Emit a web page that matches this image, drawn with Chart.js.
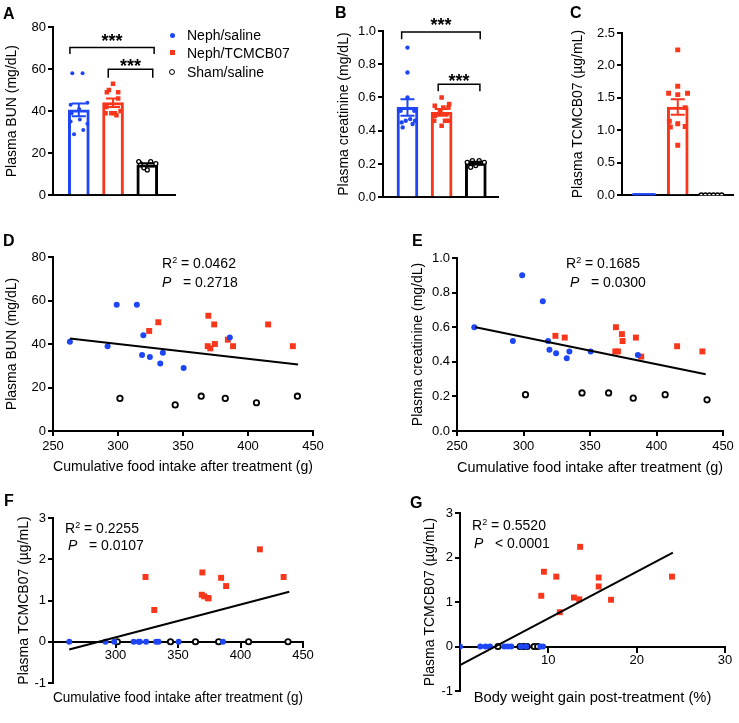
<!DOCTYPE html>
<html>
<head>
<meta charset="utf-8">
<script src="https://cdn.jsdelivr.net/npm/chart.js@4.4.1/dist/chart.umd.min.js"></script>
<style>
  body { margin: 0; background: #fff; }
  #fig { position: relative; width: 739px; height: 723px; overflow: hidden;
         font-family: "Liberation Sans", Arial, sans-serif; color: #000; }
  canvas { position: absolute; }
  .lbl { position: absolute; font-weight: bold; font-size: 16px; line-height: 16px; }
  .txt { position: absolute; font-size: 14px; line-height: 14px; white-space: nowrap; }
  .txt sup { font-size: 9px; vertical-align: 5px; line-height: 0; }
  .mk { position: absolute; box-sizing: border-box; }
</style>
</head>
<body>
<div id="fig">
  <canvas id="cA"></canvas>
  <canvas id="cB"></canvas>
  <canvas id="cC"></canvas>
  <canvas id="cD"></canvas>
  <canvas id="cE"></canvas>
  <canvas id="cF"></canvas>
  <canvas id="cG"></canvas>

  <!-- panel letters -->
  <div class="lbl" style="left:3px;top:6px">A</div>
  <div class="lbl" style="left:335px;top:5px">B</div>
  <div class="lbl" style="left:570px;top:5px">C</div>
  <div class="lbl" style="left:3px;top:233px">D</div>
  <div class="lbl" style="left:412px;top:233px">E</div>
  <div class="lbl" style="left:4px;top:493px">F</div>
  <div class="lbl" style="left:410px;top:495px">G</div>

  <!-- legend -->
  <div class="mk" style="left:169.5px;top:32.5px;width:5px;height:5px;border-radius:50%;background:#1e46f5"></div>
  <div class="txt" style="left:187px;top:28px">Neph/saline</div>
  <div class="mk" style="left:169.5px;top:50px;width:5px;height:5px;background:#f8361c"></div>
  <div class="txt" style="left:187px;top:46px">Neph/TCMCB07</div>
  <div class="mk" style="left:169px;top:69px;width:6px;height:6px;border-radius:50%;border:1.5px solid #000"></div>
  <div class="txt" style="left:187px;top:65px">Sham/saline</div>

  <!-- regression stats -->
  <div class="txt" style="left:162px;top:256px">R<sup>2</sup> = 0.0462</div>
  <div class="txt" style="left:162px;top:275px"><i>P</i>&nbsp;&nbsp; = 0.2718</div>
  <div class="txt" style="left:566px;top:256px">R<sup>2</sup> = 0.1685</div>
  <div class="txt" style="left:570px;top:275px"><i>P</i>&nbsp;&nbsp; = 0.0300</div>
  <div class="txt" style="left:65px;top:521px">R<sup>2</sup> = 0.2255</div>
  <div class="txt" style="left:68px;top:538px"><i>P</i>&nbsp;&nbsp; = 0.0107</div>
  <div class="txt" style="left:472px;top:518px">R<sup>2</sup> = 0.5520</div>
  <div class="txt" style="left:474px;top:536px"><i>P</i>&nbsp;&nbsp; &lt; 0.0001</div>
</div>

<script>
// colours
var BLUE = '#1e46f5';
var RED = '#f8361c';
var BLACK = '#000000';

// Neph/saline animals
var blueFood  = [263, 292, 299, 314.5, 319.5, 318.5, 324.5, 332.5, 334.5, 350.5, 386];
var blueBUN   = [41, 39, 58, 58, 44, 35, 34, 31, 36, 29, 43];
var blueCreat = [0.60, 0.52, 0.90, 0.75, 0.47, 0.52, 0.45, 0.42, 0.46, 0.46, 0.44];
var blueTC    = [0, 0, 0, 0, 0, 0, 0, 0, 0, 0, 0];
var blueBW    = [0, 2.3, 2.9, 3.4, 5.0, 5.4, 5.8, 6.9, 7.5, 9.1, 9.4];

// Neph/TCMCB07 animals
var redFood  = [324, 331, 369.5, 374, 369, 371, 374.5, 384.5, 388.5, 415.5, 434.5];
var redBUN   = [46, 50, 53, 49, 39, 38, 40, 42, 39, 49, 39];
var redCreat = [0.55, 0.54, 0.60, 0.56, 0.46, 0.46, 0.52, 0.54, 0.43, 0.49, 0.46];
var redTC    = [1.57, 0.77, 1.68, 1.06, 1.14, 1.10, 1.05, 1.55, 1.35, 2.24, 1.57];
var redBW    = [10.9, 11.3, 9.5, 13.5, 9.2, 12.9, 17.1, 15.7, 15.7, 13.6, 24.0];

// Sham/saline animals
var blackFood  = [301.5, 344, 364, 382.5, 406.5, 438];
var blackBUN   = [15, 12, 16, 15, 13, 16];
var blackCreat = [0.21, 0.22, 0.22, 0.19, 0.21, 0.18];
var blackTC    = [0, 0, 0, 0, 0, 0];
var blackBW    = [4.3, 6.8, 7.2, 7.6, 8.4, 8.8];

// bar heights (mean) and SEM, in group order
var bunMean = [40.6, 44.0, 14.5];
var bunSem = [3.0, 2.0, 0.7];
var creatMean = [0.54, 0.51, 0.205];
var creatSem = [0.05, 0.02, 0.008];
var tcMean = [0, 1.36, 0];
var tcSem = [0, 0.12, 0];

// horizontal scatter of the dots inside each bar (group units)
var jitBunBlue = [0.01, -0.21, -0.19, 0.11, 0.25, -0.24, 0.25, 0.13, 0.03, -0.14, -0.24];
var jitBunRed = [0.15, -0.12, 0, 0.15, -0.22, 0.1, 0.22, -0.2, 0.05, -0.18, -0.05];
var jitBunBlack = [-0.2, 0, 0.1, 0.25, -0.1, -0.25];
var jitCrBlue = [0, -0.2, 0, 0, 0.08, 0.2, -0.17, -0.14, 0.22, -0.05, 0.15];
var jitCrRed = [-0.2, 0.2, 0, 0.22, -0.22, 0.2, -0.05, 0.05, 0, -0.2, 0.1];
var jitCrBlack = [-0.25, -0.1, 0.1, 0, 0.25, -0.15];
var jitTcBlue = [-0.3, -0.24, -0.18, -0.12, -0.06, 0, 0.06, 0.12, 0.18, 0.24, 0.3];
var jitTcRed = [-0.27, 0, 0, 0.22, -0.25, 0, -0.22, 0, 0.22, 0, 0.29];
var jitTcBlack = [-0.3, -0.18, -0.06, 0.06, 0.18, 0.3];

// significance brackets (group units / value units)
var bracketsA = [
  {from: -0.26, to: 2.2, y: 70.3, drop: 3.1, star: 75.2},
  {from: 0.86, to: 2.16, y: 59.9, drop: 4.0, star: 63.3}
];
var bracketsB = [
  {from: -0.17, to: 2.13, y: 0.994, drop: 0.043, star: 1.062},
  {from: 0.9, to: 2.12, y: 0.68, drop: 0.043, star: 0.721}
];

// linear fit end points
var fitD = [{x: 263, y: 42.5}, {x: 438.5, y: 30.6}];
var fitE = [{x: 264, y: 0.60}, {x: 437, y: 0.328}];
var fitF = [{x: 263, y: -0.19}, {x: 439, y: 1.21}];
var fitG = [{x: 0, y: -0.42}, {x: 24.1, y: 2.11}];

Chart.defaults.font.family = '"Liberation Sans", Arial, sans-serif';
Chart.defaults.font.size = 13;
Chart.defaults.color = '#000';

function pairs(xs, ys) {
  return xs.map(function(x, i) { return {x: x, y: ys[i]}; });
}

function jittered(group, jit, ys) {
  return ys.map(function(y, i) { return {x: group + jit[i], y: y}; });
}

function tickGrid() {
  return {display: true, drawOnChartArea: false, drawTicks: true, tickLength: 5,
          lineWidth: 2, color: '#000'};
}

function axisBorder() {
  return {display: true, width: 2, color: '#000'};
}

function yScale(box, area, min, max, step, title, digits) {
  return {
    position: 'left', min: min, max: max,
    ticks: {stepSize: step, padding: 2, callback: function(v) { return digits ? v.toFixed(digits) : v; }},
    grid: tickGrid(), border: axisBorder(),
    title: {display: true, text: title, font: {size: 14}, padding: {top: 4, bottom: 0}},
    afterFit: function(s) { s.width = area.l - box.x; }
  };
}

function barX(box, area, min, max) {
  return {
    type: 'linear', position: 'bottom', min: min, max: max, offset: false,
    ticks: {display: false}, grid: {display: false}, border: axisBorder(),
    afterFit: function(s) { s.height = box.y + box.h - area.b; }
  };
}

function valX(box, area, min, max, step, title, hide) {
  return {
    type: 'linear', position: 'bottom', min: min, max: max,
    ticks: {stepSize: step, padding: 3, callback: function(v) { return v === hide ? '' : v; }},
    grid: tickGrid(), border: axisBorder(),
    title: {display: !!title, text: title, font: {size: 14.7}, padding: {top: 0, bottom: 0}},
    afterFit: function(s) { s.height = box.y + box.h - area.b; }
  };
}

function titleOnlyX(box, area, title) {
  return {
    type: 'linear', position: 'bottom', min: 0, max: 1,
    ticks: {display: false}, grid: {display: false}, border: {display: false},
    title: {display: true, text: title, font: {size: 14.7}, padding: {top: 0, bottom: 0}},
    afterFit: function(s) { s.height = box.y + box.h - area.b; }
  };
}

function dots(data, color, r) {
  return {type: 'scatter', data: data, pointStyle: 'circle', pointRadius: r,
          backgroundColor: color, borderWidth: 0};
}
function squares(data, r) {
  return {type: 'scatter', data: data, pointStyle: 'rect', pointRadius: r,
          backgroundColor: RED, borderWidth: 0};
}
function rings(data, r, bw) {
  return {type: 'scatter', data: data, pointStyle: 'circle', pointRadius: r,
          backgroundColor: '#fff', borderColor: BLACK, borderWidth: bw};
}
function fitLine(data) {
  return {type: 'scatter', data: data, showLine: true, borderColor: BLACK, borderWidth: 2,
          pointRadius: 0, fill: false};
}

// SEM whiskers and brackets drawn from the scales
function statsPlugin(means, sems, brackets) {
  var colors = [BLUE, RED, BLACK];
  return {
    id: 'stats',
    afterDatasetsDraw: function(chart) {
      var ctx = chart.ctx, x = chart.scales.x, y = chart.scales.y;
      ctx.save();
      ctx.lineWidth = 2;
      means.forEach(function(m, i) {
        if (!sems[i]) return;
        var px = x.getPixelForValue(i);
        var top = y.getPixelForValue(m + sems[i]);
        var bot = y.getPixelForValue(m - sems[i]);
        ctx.strokeStyle = colors[i];
        ctx.beginPath();
        ctx.moveTo(px, top); ctx.lineTo(px, bot);
        ctx.moveTo(px - 7, top); ctx.lineTo(px + 7, top);
        ctx.moveTo(px - 7, bot); ctx.lineTo(px + 7, bot);
        ctx.stroke();
      });
      ctx.strokeStyle = BLACK;
      ctx.fillStyle = BLACK;
      ctx.lineWidth = 1.5;
      ctx.font = 'bold 18px "Liberation Sans", Arial, sans-serif';
      ctx.textAlign = 'center';
      ctx.textBaseline = 'alphabetic';
      (brackets || []).forEach(function(b) {
        var x1 = x.getPixelForValue(b.from), x2 = x.getPixelForValue(b.to);
        var yy = y.getPixelForValue(b.y), yd = y.getPixelForValue(b.y - b.drop);
        ctx.beginPath();
        ctx.moveTo(x1, yd); ctx.lineTo(x1, yy); ctx.lineTo(x2, yy); ctx.lineTo(x2, yd);
        ctx.stroke();
        ctx.fillText('***', (x1 + x2) / 2, y.getPixelForValue(b.star) + 10);
      });
      ctx.restore();
    }
  };
}

function makePanel(id, box, area, datasets, scales, plugins) {
  var cv = document.getElementById(id);
  cv.width = box.w; cv.height = box.h;
  cv.style.left = box.x + 'px'; cv.style.top = box.y + 'px';
  cv.style.width = box.w + 'px'; cv.style.height = box.h + 'px';
  return new Chart(cv, {
    type: 'scatter',
    data: {datasets: datasets},
    options: {
      responsive: false, animation: false, events: [],
      layout: {padding: {left: 0, bottom: 0, top: area.t - box.y, right: box.x + box.w - area.r}},
      plugins: {legend: {display: false}, tooltip: {enabled: false}},
      scales: scales
    },
    plugins: plugins || []
  });
}

function bars(means) {
  return {type: 'bar', data: pairs([0, 1, 2], means), backgroundColor: '#fff',
          borderColor: [BLUE, RED, BLACK], borderWidth: 3, barThickness: 21};
}

// ---- A: plasma BUN bars
(function() {
  var box = {x: 0, y: 0, w: 185, h: 205}, area = {l: 53, t: 27, r: 175, b: 200};
  makePanel('cA', box, area, [
    dots(jittered(0, jitBunBlue, blueBUN), BLUE, 2),
    squares(jittered(1, jitBunRed, redBUN), 3.2),
    rings(jittered(2, jitBunBlack, blackBUN), 2, 1.3),
    bars(bunMean)
  ], {
    x: barX(box, area, -0.754, 2.81),
    y: yScale(box, area, 0, 80, 20, 'Plasma BUN (mg/dL)', 0)
  }, [statsPlugin(bunMean, bunSem, bracketsA)]);
})();

// ---- B: plasma creatinine bars
(function() {
  var box = {x: 332, y: 0, w: 175, h: 207}, area = {l: 383, t: 31, r: 498, b: 202};
  makePanel('cB', box, area, [
    dots(jittered(0, jitCrBlue, blueCreat), BLUE, 2.2),
    squares(jittered(1, jitCrRed, redCreat), 3.2),
    rings(jittered(2, jitCrBlack, blackCreat), 2, 1.3),
    bars(creatMean)
  ], {
    x: barX(box, area, -0.716, 2.65),
    y: yScale(box, area, 0, 1, 0.2, 'Plasma creatinine (mg/dL)', 1)
  }, [statsPlugin(creatMean, creatSem, bracketsB)]);
})();

// ---- C: plasma TCMCB07 bars
(function() {
  var box = {x: 566, y: 0, w: 173, h: 205}, area = {l: 622, t: 33, r: 733, b: 200};
  makePanel('cC', box, area, [
    dots(jittered(0, jitTcBlue, blueTC), BLUE, 2.3),
    squares(jittered(1, jitTcRed, redTC), 3.5),
    rings(jittered(2, jitTcBlack, blackTC), 2.2, 1.3),
    bars(tcMean)
  ], {
    x: barX(box, area, -0.652, 2.637),
    y: yScale(box, area, 0, 2.5, 0.5, 'Plasma TCMCB07 (\u00b5g/mL)', 1)
  }, [statsPlugin(tcMean, tcSem, [])]);
})();

// ---- D: BUN vs food intake
(function() {
  var box = {x: 0, y: 220, w: 330, h: 256}, area = {l: 53, t: 257, r: 313, b: 431};
  makePanel('cD', box, area, [
    fitLine(fitD),
    dots(pairs(blueFood, blueBUN), BLUE, 3),
    squares(pairs(redFood, redBUN), 4.2),
    rings(pairs(blackFood, blackBUN), 2.7, 1.8)
  ], {
    x: valX(box, area, 250, 450, 50, 'Cumulative food intake after treatment (g)', null),
    y: yScale(box, area, 0, 80, 20, 'Plasma BUN (mg/dL)', 0)
  });
})();

// ---- E: creatinine vs food intake
(function() {
  var box = {x: 406, y: 220, w: 333, h: 257}, area = {l: 457, t: 258, r: 723, b: 431};
  makePanel('cE', box, area, [
    fitLine(fitE),
    dots(pairs(blueFood, blueCreat), BLUE, 3),
    squares(pairs(redFood, redCreat), 4.2),
    rings(pairs(blackFood, blackCreat), 2.7, 1.8)
  ], {
    x: valX(box, area, 250, 450, 50, 'Cumulative food intake after treatment (g)', null),
    y: yScale(box, area, 0, 1, 0.2, 'Plasma creatinine (mg/dL)', 1)
  });
})();

// ---- F: TCMCB07 vs food intake
(function() {
  var box = {x: 12, y: 480, w: 310, h: 227}, area = {l: 53, t: 518, r: 303, b: 683};
  var xs = valX(box, area, 250, 450, 50, '', 250);
  xs.position = {y: 0};
  xs.ticks.padding = 1;
  delete xs.afterFit;
  makePanel('cF', box, area, [
    fitLine(fitF),
    dots(pairs(blueFood, blueTC), BLUE, 3),
    squares(pairs(redFood, redTC), 4.2),
    rings(pairs(blackFood, blackTC), 2.7, 1.8)
  ], {
    x: xs,
    x2: titleOnlyX(box, area, 'Cumulative food intake after treatment (g)'),
    y: yScale(box, area, -1, 3, 1, 'Plasma TCMCB07 (\u00b5g/mL)', 0)
  });
})();

// ---- G: TCMCB07 vs body weight gain
(function() {
  var box = {x: 418, y: 480, w: 321, h: 227}, area = {l: 460, t: 513, r: 725, b: 691};
  var xs = valX(box, area, 0, 30, 10, '', 0);
  xs.position = {y: 0};
  xs.ticks.padding = 1;
  delete xs.afterFit;
  makePanel('cG', box, area, [
    fitLine(fitG),
    dots(pairs(blueBW, blueTC), BLUE, 3),
    squares(pairs(redBW, redTC), 4.2),
    rings(pairs(blackBW, blackTC), 2.7, 1.8)
  ], {
    x: xs,
    x2: titleOnlyX(box, area, 'Body weight gain post-treatment (%)'),
    y: yScale(box, area, -1, 3, 1, 'Plasma TCMCB07 (\u00b5g/mL)', 0)
  });
})();
</script>
</body>
</html>
